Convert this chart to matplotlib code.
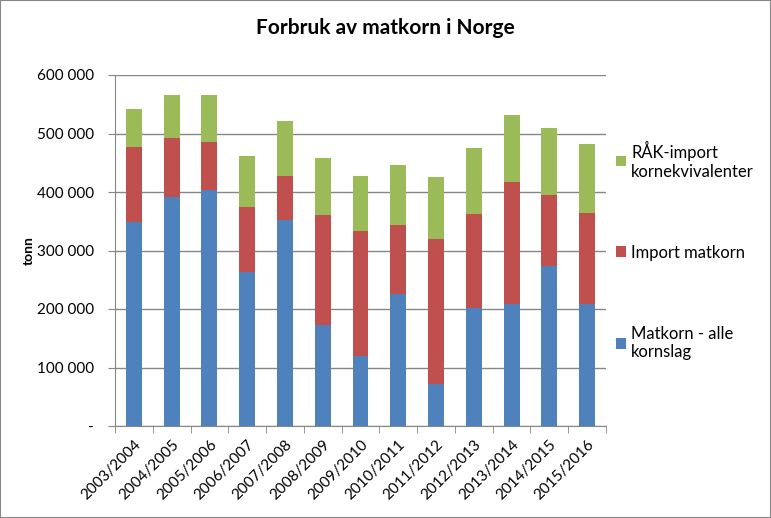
import numpy as np
import matplotlib.pyplot as plt
from matplotlib.patches import Rectangle
from matplotlib.ticker import FuncFormatter

plt.rcParams['font.family'] = ['Lato', 'DejaVu Sans']

#Data
years = ['2003/2004', '2004/2005', '2005/2006', '2006/2007', '2007/2008', '2008/2009',
         '2009/2010', '2010/2011', '2011/2012', '2012/2013', '2013/2014', '2014/2015', '2015/2016']
matkorn = [348000, 392000, 404000, 263000, 352000, 173000, 120000, 226000, 71000, 202000, 208000, 273000, 209000]
import_matkorn = [129000, 101000, 82000, 112000, 76000, 187000, 214000, 118000, 249000, 161000, 209000, 122000, 155000]
raak_import = [65000, 73000, 79000, 87000, 94000, 98000, 94000, 103000, 106000, 113000, 115000, 115000, 118000]

labels = ['Matkorn - alle\nkornslag', 'Import matkorn', 'RÅK-import\nkornekvivalenter']
colors = ['#4F81BD', '#C0504D', '#9BBB59']

#Plot
fig = plt.figure(figsize=(7.71, 5.18), dpi=100)
ax = fig.add_axes([115 / 771, 92 / 518, 491 / 771, 351 / 518])

x = np.arange(len(years))
m = np.array(matkorn)
im = np.array(import_matkorn)
r = np.array(raak_import)
w = 0.42
b1 = ax.bar(x, m, w, color=colors[0], label=labels[0], zorder=3)
b2 = ax.bar(x, im, w, bottom=m, color=colors[1], label=labels[1], zorder=3)
b3 = ax.bar(x, r, w, bottom=m + im, color=colors[2], label=labels[2], zorder=3)

ax.set_xlim(-0.5, len(years) - 0.5)
ax.set_ylim(0, 600000)
ax.set_yticks(np.arange(0, 600001, 100000))
ax.yaxis.set_major_formatter(FuncFormatter(
    lambda v, p: '-' if v == 0 else '{:,.0f}'.format(v).replace(',', ' ')))
ax.grid(axis='y', color='#868686', linewidth=1, zorder=0)

ax.set_xticks(x)
ax.set_xticklabels(years, rotation=45, ha='right', rotation_mode='anchor', fontsize=11)
ax.set_xticks(np.arange(-0.5, len(years)), minor=True)
ax.tick_params(axis='x', which='major', length=0, pad=8)
ax.tick_params(axis='x', which='minor', length=5, color='#868686')
ax.tick_params(axis='y', length=5, color='#868686', labelsize=11, pad=10)

for s in ['top', 'right']:
    ax.spines[s].set_visible(False)
for s in ['left', 'bottom']:
    ax.spines[s].set_color('#868686')

ax.set_ylabel('tonn', fontweight='bold', fontsize=10, labelpad=2)
fig.text(0.5, 0.945, 'Forbruk av matkorn i Norge', ha='center', va='center',
         fontsize=15, fontweight='bold')

ax.legend([b3, b2, b1], [labels[2], labels[1], labels[0]], loc='center left',
          bbox_to_anchor=(0.99, 0.5), frameon=False, fontsize=12,
          handlelength=0.6, handleheight=0.6, handletextpad=0.3, labelspacing=3.9)

fig.patches.append(Rectangle((0, 0), 1, 1, transform=fig.transFigure, fill=False,
                             edgecolor='#868686', linewidth=1.5))

plt.savefig('out.png', dpi=100)
